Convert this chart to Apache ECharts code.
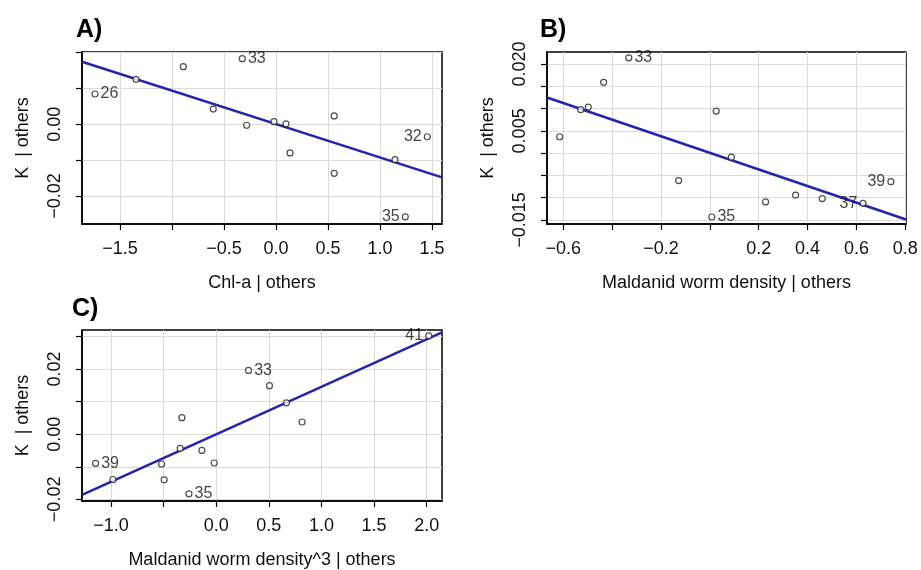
<!DOCTYPE html>
<html><head><meta charset="utf-8">
<script src="https://cdn.jsdelivr.net/npm/echarts@6/dist/echarts.min.js"></script>
<style>html,body{margin:0;padding:0;background:#fff}#c{width:921px;height:570px}</style>
</head><body><div id="c"></div>
<script>
// ---- data ----
const panelTitles = ['A)', 'B)', 'C)'];
const xTitles = ['Chl-a | others', 'Maldanid worm density | others', 'Maldanid worm density^3 | others'];
const yTitle = 'K  | others';

// Panel A: K | others vs Chl-a | others
const aX  = [-1.740, -1.346, -0.891, -0.324, -0.603, -0.282, -0.019, 0.096, 0.135, 0.560, 0.560, 1.144, 1.455, 1.243];
const aY  = [0.0084, 0.0125, 0.0160, 0.01825, 0.0042, -0.0003, 0.0007, 0.0001, -0.0080, 0.0023, -0.0137, -0.0099, -0.0035, -0.0258];
const aId = ['26', '', '', '33', '', '', '', '', '', '', '', '', '32', '35'];
const aLine = [[-1.865, 0.0174], [1.596, -0.0148]];
const aXTicks = [-1.5, -1.0, -0.5, 0.0, 0.5, 1.0, 1.5];
const aXLabels = [-1.5, -0.5, 0.0, 0.5, 1.0, 1.5];
const aYTicks = [-0.02, -0.01, 0.00, 0.01, 0.02];
const aYLabels = [-0.02, 0.00];

// Panel B: K | others vs Maldanid worm density | others
const bX  = [-0.615, -0.529, -0.498, -0.435, -0.332, -0.128, 0.008, 0.026, 0.088, 0.228, 0.351, 0.460, 0.627, 0.741];
const bY  = [0.00368, 0.00975, 0.01035, 0.0159, 0.0214, -0.00615, -0.01433, 0.00945, -0.0009, -0.01095, -0.0094, -0.0102, -0.01125, -0.0064];
const bId = ['', '', '', '', '33', '', '35', '', '', '', '', '', '37', '39'];
const bLine = [[-0.667, 0.0125], [0.803, -0.0149]];
const bXTicks = [-0.6, -0.4, -0.2, 0.0, 0.2, 0.4, 0.6, 0.8];
const bXLabels = [-0.6, -0.2, 0.2, 0.4, 0.6, 0.8];
const bYTicks = [-0.015, -0.010, -0.005, 0.000, 0.005, 0.010, 0.015, 0.020];
const bYLabels = [-0.015, 0.005, 0.020];

// Panel C: K | others vs Maldanid worm density^3 | others
const cX  = [2.019, 0.307, 0.506, 0.668, 0.816, -0.326, -0.342, -0.136, -0.019, -0.519, -1.146, -0.981, -0.494, -0.259];
const cY  = [0.0302, 0.0196, 0.0149, 0.00964, 0.00376, 0.00508, -0.00437, -0.00497, -0.00883, -0.00914, -0.00893, -0.0139, -0.0140, -0.0183];
const cId = ['41', '33', '', '', '', '', '', '', '', '', '39', '', '', '35'];
const cLine = [[-1.275, -0.0186], [2.145, 0.0313]];
const cXTicks = [-1.0, -0.5, 0.0, 0.5, 1.0, 1.5, 2.0];
const cXLabels = [-1.0, 0.0, 0.5, 1.0, 1.5, 2.0];
const cYTicks = [-0.02, -0.01, 0.00, 0.01, 0.02, 0.03];
const cYLabels = [-0.02, 0.00, 0.02];

// ---- chart construction ----
const FONT = "'Liberation Sans', Arial, Helvetica, sans-serif";
const leftLabelPanels = {0: ['32', '35'], 1: ['37', '39'], 2: ['41']};

const panels = [
  {x: aX, y: aY, id: aId, line: aLine, xr: [-1.865, 1.596], yr: [-0.0278, 0.0201],
   xt: aXTicks, xl: aXLabels, yt: aYTicks, yl: aYLabels, xd: 1, yd: 2,
   grid: {left: 82, width: 360, top: 52, height: 172}},
  {x: bX, y: bY, id: bId, line: bLine, xr: [-0.667, 0.803], yr: [-0.0159, 0.0227],
   xt: bXTicks, xl: bXLabels, yt: bYTicks, yl: bYLabels, xd: 1, yd: 3,
   grid: {left: 547, width: 359, top: 52, height: 172}},
  {x: cX, y: cY, id: cId, line: cLine, xr: [-1.275, 2.145], yr: [-0.0205, 0.032],
   xt: cXTicks, xl: cXLabels, yt: cYTicks, yl: cYLabels, xd: 1, yd: 2,
   grid: {left: 82, width: 360, top: 330, height: 171}}
];

function fmt(d) {
  return function (v) {
    const s = Math.abs(v).toFixed(d);
    return (v < -1e-12 ? '\u2212' : '') + s;
  };
}

const grids = [], xAxes = [], yAxes = [], series = [], titles = [];
const titlePos = [{left: 71, top: 13}, {left: 535, top: 13}, {left: 67, top: 292}];

panels.forEach((p, i) => {
  grids.push(Object.assign({show: true, borderColor: '#000', borderWidth: 1.5, backgroundColor: '#fff'}, p.grid));
  xAxes.push({
    type: 'value', gridIndex: i, min: p.xr[0], max: p.xr[1],
    name: xTitles[i], nameLocation: 'middle', nameGap: 50,
    nameTextStyle: {fontFamily: FONT, fontSize: 18, color: '#111'},
    axisLine: {show: true, onZero: false, lineStyle: {color: '#000', width: 1.5}},
    axisTick: {show: true, length: 6, customValues: p.xt, lineStyle: {color: '#000', width: 1.2}},
    axisLabel: {customValues: p.xl, formatter: fmt(p.xd), fontFamily: FONT, fontSize: 18, color: '#111', margin: 16},
    splitLine: {show: true, lineStyle: {color: '#dadada', width: 1}}
  });
  yAxes.push({
    type: 'value', gridIndex: i, min: p.yr[0], max: p.yr[1],
    name: yTitle, nameLocation: 'middle', nameGap: 50,
    nameTextStyle: {fontFamily: FONT, fontSize: 18, color: '#111'},
    axisLine: {show: true, onZero: false, lineStyle: {color: '#000', width: 1.5}},
    axisTick: {show: true, length: 6, customValues: p.yt, lineStyle: {color: '#000', width: 1.2}},
    axisLabel: {customValues: p.yl, formatter: fmt(p.yd), rotate: 90, fontFamily: FONT, fontSize: 18, color: '#111', margin: 18},
    splitLine: {show: true, lineStyle: {color: '#dadada', width: 1}}
  });
  const leftIds = leftLabelPanels[i];
  const pts = p.x.map((xv, k) => {
    const id = p.id[k];
    const item = {value: [xv, p.y[k]], name: id};
    if (id) {
      item.label = {show: true, position: leftIds.indexOf(id) >= 0 ? 'left' : 'right', distance: 2,
        formatter: id, fontFamily: FONT, fontSize: 16, color: '#111'};
    }
    return item;
  });
  series.push({
    type: 'scatter', xAxisIndex: i, yAxisIndex: i, data: pts, z: 5,
    symbol: 'circle', symbolSize: 6,
    itemStyle: {color: '#ffffff', borderColor: '#222', borderWidth: 1.2},
    label: {show: false}, emphasis: {disabled: true}
  });
  series.push({
    type: 'line', xAxisIndex: i, yAxisIndex: i, data: p.line, z: 4,
    showSymbol: false, symbol: 'none', clip: true,
    lineStyle: {color: '#2424b0', width: 2.5}, emphasis: {disabled: true}
  });
  titles.push(Object.assign({text: panelTitles[i], textStyle: {fontFamily: FONT, fontSize: 25, fontWeight: 'bold', color: '#000'}}, titlePos[i]));
});

const chart = echarts.init(document.getElementById('c'), null, {renderer: 'canvas'});
chart.setOption({
  animation: false,
  backgroundColor: '#fff',
  title: titles,
  grid: grids,
  xAxis: xAxes,
  yAxis: yAxes,
  series: series
});
</script>
</body></html>
